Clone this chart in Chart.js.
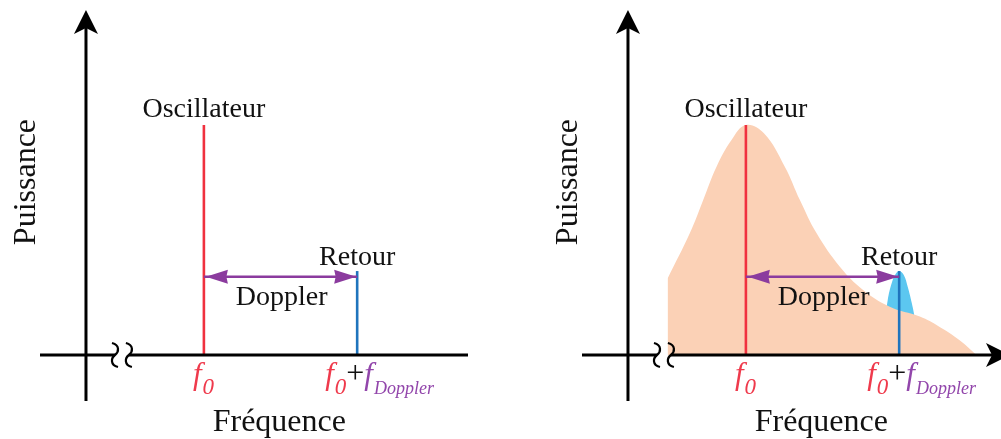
<!DOCTYPE html>
<html>
<head>
<meta charset="utf-8">
<script src="https://cdn.jsdelivr.net/npm/chart.js@4/dist/chart.umd.min.js"></script>
<style>
  html, body { margin: 0; padding: 0; background: #fff; overflow: hidden; width: 1001px; height: 439px; }
  .panel { position: absolute; top: 0; width: 500px; height: 439px; }
  #p1 { left: 0; }
  #p2 { left: 542px; }
</style>
</head>
<body>
<div class="panel" id="p1"><canvas id="c1"></canvas></div>
<div class="panel" id="p2"><canvas id="c2"></canvas></div>
<script>
// ---------- data (arbitrary units) ----------
const oscFreq = 10;            // f0
const echoFreq = 23;           // f0 + fDoppler
const oscPower = 100;
const echoPower = 36.5;
const dopplerLevel = 34;

// broadband oscillator noise (right panel)
const noiseFreq  = [3.36, 5.25, 6.38, 7.51, 8.78, 10, 11.53, 13.3, 14.58, 16.0, 17.97, 19.94, 22.2, 24.75, 26.4, 28.1, 29.55];
const noisePower = [33.3, 53,   67.4, 81.9, 93.5, 100, 96.4, 81.9, 67.4, 52.9, 38.4, 28.3, 21,   16.7,  12.3, 6.5,  0];

// echo spectrum (right panel)
const echoSpecFreq  = [21.7, 22.03, 22.37, 22.7, 23, 23.39, 23.73, 24.07, 24.4];
const echoSpecPower = [10.9, 23.9,  31.3,  35.2, 36.5, 34.8, 29.6, 22.6,  14.3];

// texts
const tickValues = [oscFreq, echoFreq];
const tickLabels = [
  [['f', 'main0'], ['0', 'sub0']],
  [['f', 'main0'], ['0', 'sub0'], ['+', 'plus'], ['f', 'mainD'], ['Doppler', 'subD']]
];
const peakLabels = ['Oscillateur', 'Retour', 'Doppler'];
const axisTitles = ['Fréquence', 'Puissance'];

// ---------- styles ----------
const RED = '#f0313f', BLUE = '#1f74bd', PURPLE = '#8b3b9e', PEACH = '#fbd1b6', SKY = '#5cc7f0';
const SERIF = '"Liberation Serif", "DejaVu Serif", serif';

const pts = (xs, ys) => xs.map((v, i) => ({ x: v, y: ys[i] }));

function stealth(ctx, tx, ty, dx, dy, L, W, notch) {
  const nx = -dy, ny = dx;
  const bx = tx - dx * L, by = ty - dy * L;
  ctx.beginPath();
  ctx.moveTo(tx, ty);
  ctx.lineTo(bx + nx * W, by + ny * W);
  ctx.lineTo(tx - dx * (L - notch), ty - dy * (L - notch));
  ctx.lineTo(bx - nx * W, by - ny * W);
  ctx.closePath();
  ctx.fill();
}

const schematic = {
  id: 'schematic',
  afterDatasetsDraw(chart, args, o) {
    const { ctx, chartArea: ca, scales } = chart;
    const X = v => scales.x.getPixelForValue(v);
    const Y = v => scales.y.getPixelForValue(v);
    const x0 = X(0), y0 = Y(0);
    ctx.save();

    // Doppler arrow heads
    ctx.fillStyle = PURPLE;
    stealth(ctx, X(oscFreq) + 2, Y(dopplerLevel), -1, 0, 22, 7, 1.5);
    stealth(ctx, X(echoFreq) - 1, Y(dopplerLevel), 1, 0, 22, 7, 1.5);

    // axes
    ctx.strokeStyle = '#000';
    ctx.fillStyle = '#000';
    ctx.lineWidth = 3;
    const bA = X(o.breakAt[0]), bB = X(o.breakAt[1]);
    ctx.beginPath();
    ctx.moveTo(ca.left, y0); ctx.lineTo(bA, y0);
    ctx.moveTo(bB, y0); ctx.lineTo(o.xArrow ? ca.right - 18 : ca.right, y0);
    ctx.stroke();
    ctx.beginPath();
    ctx.moveTo(x0, ca.bottom); ctx.lineTo(x0, ca.top + 18);
    ctx.stroke();
    stealth(ctx, x0, ca.top, 0, -1, 24, 12, 6);
    if (o.xArrow) stealth(ctx, ca.right, y0, 1, 0, 24, 12, 6);

    // axis break squiggles
    ctx.lineWidth = 2.2;
    [bA, bB].forEach(cx => {
      ctx.beginPath();
      ctx.moveTo(cx - 3, y0 - 12);
      ctx.bezierCurveTo(cx + 5, y0 - 10, cx + 4, y0 - 3, cx, y0);
      ctx.bezierCurveTo(cx - 4, y0 + 3, cx - 5, y0 + 10, cx + 3, y0 + 12);
      ctx.stroke();
    });

    // peak labels
    ctx.fillStyle = '#111';
    ctx.font = '28px ' + SERIF;
    ctx.textAlign = 'center';
    ctx.textBaseline = 'alphabetic';
    ctx.fillText(peakLabels[0], X(oscFreq), Y(103.5));
    ctx.fillText(peakLabels[1], X(echoFreq), Y(39));
    ctx.fillText(peakLabels[2], X(16.6), Y(21.7));

    // axis titles
    ctx.font = '32px ' + SERIF;
    ctx.fillText(axisTitles[0], X(16.4), ca.bottom + 30);
    ctx.save();
    ctx.translate(x0 - 51, Y(75.2));
    ctx.rotate(-Math.PI / 2);
    ctx.fillText(axisTitles[1], 0, 0);
    ctx.restore();

    // tick labels
    const styles = {
      main0: { font: 'italic 31px ' + SERIF, color: '#ef3a4c', dy: 0 },
      sub0:  { font: 'italic 23px ' + SERIF, color: '#ef3a4c', dy: 10 },
      plus:  { font: '32px ' + SERIF, color: '#111', dy: -1 },
      mainD: { font: 'italic 31px ' + SERIF, color: '#9246ab', dy: 0 },
      subD:  { font: 'italic 18px ' + SERIF, color: '#9246ab', dy: 10 }
    };
    const startOff = [-11, -32];
    ctx.textAlign = 'left';
    tickValues.forEach((v, i) => {
      let cx = X(v) + startOff[i];
      const base = y0 + 29;
      tickLabels[i].forEach(([t, k]) => {
        const s = styles[k];
        ctx.font = s.font;
        ctx.fillStyle = s.color;
        ctx.fillText(t, cx, base + s.dy);
        cx += ctx.measureText(t).width + (k === 'main0' || k === 'mainD' ? 1 : 0);
      });
    });
    ctx.restore();
  }
};

function makeChart(id, withNoise) {
  const datasets = [
    { data: pts([oscFreq, oscFreq], [0, oscPower]), borderColor: RED, borderWidth: 2.6, order: 1 },
    { data: pts([echoFreq, echoFreq], [0, echoPower]), borderColor: BLUE, borderWidth: 2.6, order: 1 },
    { data: pts([oscFreq, echoFreq], [dopplerLevel, dopplerLevel]), borderColor: PURPLE, borderWidth: 2.4, order: 0 }
  ];
  if (withNoise) {
    datasets.push({ data: pts(noiseFreq, noisePower), borderWidth: 0, borderColor: 'rgba(0,0,0,0)',
      backgroundColor: PEACH, fill: 'origin', tension: 0.4, order: 5 });
    datasets.push({ data: pts(echoSpecFreq, echoSpecPower), borderWidth: 0, borderColor: 'rgba(0,0,0,0)',
      backgroundColor: SKY, fill: 'origin', tension: 0.4, order: 6 });
  }
  datasets.forEach(d => { d.pointRadius = 0; d.pointHoverRadius = 0; });
  return new Chart(document.getElementById(id), {
    type: 'line',
    data: { datasets },
    options: {
      responsive: true,
      maintainAspectRatio: false,
      animation: false,
      events: [],
      layout: { padding: { left: 40, right: 32, top: 10, bottom: 38 } },
      scales: {
        x: { type: 'linear', min: -3.9, max: 32.4, display: false },
        y: { type: 'linear', min: -20, max: 150, display: false }
      },
      plugins: {
        legend: { display: false },
        tooltip: { enabled: false },
        schematic: { xArrow: withNoise, breakAt: [2.46, 3.64] }
      }
    },
    plugins: [schematic]
  });
}

makeChart('c1', false);
makeChart('c2', true);
</script>
</body>
</html>
